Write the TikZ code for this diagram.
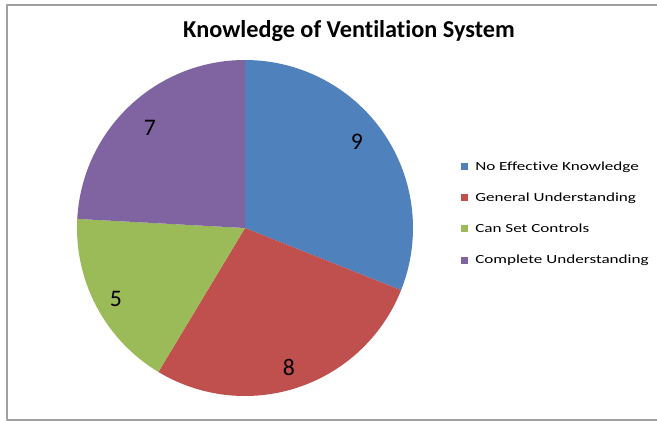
\documentclass[tikz,border=0pt]{standalone}
\usepackage{fontspec}
\setmainfont{Carlito}[Ligatures=NoCommon]
\newfontfamily\legfont[FakeStretch=1.38,Ligatures=NoCommon]{Carlito}
\definecolor{sliceblue}{HTML}{4F81BD}
\definecolor{slicered}{HTML}{C0504D}
\definecolor{slicegreen}{HTML}{9BBB59}
\definecolor{slicepurple}{HTML}{8064A2}
\begin{document}
\begin{tikzpicture}[line join = round, x=0.75pt, y=0.75pt]
			\tikzset{val/.style={font=\fontsize{17.8pt}{20pt}\selectfont},
				legtext/.style={anchor=base west,inner sep=0pt,font=\legfont\fontsize{9.3pt}{11pt}\selectfont},
				legbox/.style={minimum size=5.25pt,inner sep=0pt,anchor=south west}}
			\useasboundingbox(0,0) rectangle (657,-421);
			\draw[gray!75,line width=1.5pt](657,-5)--(7,-5)--(7,-420)--(657,-420);
			\node[anchor=base,font=\bfseries\fontsize{18.2pt}{21pt}\selectfont] (title) at (349,-37) {Knowledge of Ventilation System};
			% pie
			\def\r{168}
			\coordinate (c) at (245,-228);
			\foreach \a/\b/\col in {90/-21.724/sliceblue,-21.724/-121.034/slicered,-121.034/-183.103/slicegreen,-183.103/-270/slicepurple}
			\fill[\col](c)--++(\a:\r)arc(\a:\b:\r)--cycle;
			\node[val] (v9) at (357,-142) {9};
			\node[val] (v8) at (289,-367) {8};
			\node[val] (v5) at (116,-299) {5};
			\node[val] (v7) at (150,-128) {7};
			% legend
			\foreach \t/\col [count=\i] in {No Effective Knowledge/sliceblue,General Understanding/slicered,Can Set Controls/slicegreen,Complete Understanding/slicepurple}{
				\node[legbox,fill=\col] (box\i) at (461,{-170-31.3*(\i-1)}) {};
				\node[legtext] (leg\i) at (475,{-170-31.3*(\i-1)}) {\t};
			}
		\end{tikzpicture}
\end{document}
